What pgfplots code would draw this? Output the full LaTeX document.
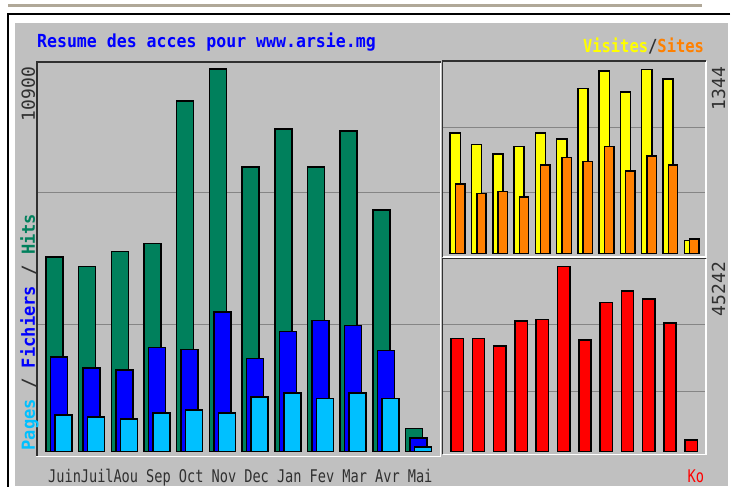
\documentclass[border=0pt]{standalone}
\usepackage{pgfplots}
\pgfplotsset{compat=1.18}
\usepackage{pgfplotstable}
\usepackage{fontspec}
\newfontfamily\fA[FakeStretch=0.92]{DejaVu Sans Mono}
\newfontfamily\fB[FakeStretch=0.95]{DejaVu Sans Mono}
\newfontfamily\fC[FakeStretch=0.86]{DejaVu Sans Mono}
\newfontfamily\fM[FakeStretch=0.78]{DejaVu Sans Mono}
\newfontfamily\fN{DejaVu Sans Mono}
\definecolor{bg}{HTML}{C0C0C0}
\definecolor{hitc}{HTML}{00805C}
\definecolor{filec}{HTML}{0000FF}
\definecolor{pagec}{HTML}{00C0FF}
\definecolor{visitc}{HTML}{FFFF00}
\definecolor{sitec}{HTML}{FF8000}
\definecolor{kbc}{HTML}{FF0000}
\definecolor{gridc}{HTML}{858585}
\definecolor{tanc}{HTML}{B0A898}
\definecolor{darkc}{HTML}{303030}

\pgfplotstableread{
m hits files pages
0 5545 2697 1034
1 5278 2384 977
2 5705 2327 920
3 5933 2962 1091
4 9997 2914 1188
5 10900 3979 1091
6 8117 2649 1558
7 9200 3418 1672
8 8117 3731 1509
9 9143 3588 1672
10 6892 2876 1509
11 655 390 122
}\mainT

\pgfplotstableread{
m visits sites kb
0 880 510 27707
1 797 440 27707
2 727 454 25849
3 782 413 31963
4 880 647 32354
5 836 702 45242
6 1205 673 27316
7 1332 782 36511
8 1181 605 39299
9 1344 715 37343
10 1276 647 31474
11 95 109 2861
}\rightT

\begin{document}
\begin{tikzpicture}
% background and frame
\fill[white] (0pt,0pt) rectangle (731pt,488pt);
\fill[tanc] (8pt,481pt) rectangle (703pt,484pt);
\fill[bg] (15pt,1pt) rectangle (729pt,465pt);
\draw[black, line width=1.6pt] (731pt,474pt) -- (8pt,474pt) -- (8pt,0pt);

\pgfplotsset{panel/.style={scale only axis, anchor=south west,
  axis line style={draw=none}, major tick length=0pt,
  scaled y ticks=false, scaled x ticks=false,
  yticklabels={}, ymajorgrids, grid style={gridc, line width=1.3pt},
  clip=false},
  bstyle/.style={ybar, draw=black, line width=1.5pt}}

% main panel
\begin{axis}[panel, at={(37pt,36pt)}, width=404pt, height=390pt,
  xmin=-0.672, xmax=11.671, ymin=0, ymax=11108,
  ytick={3617,7377},
  xtick={0,...,11},
  xticklabels={Juin,Juil,Aou,Sep,Oct,Nov,Dec,Jan,Fev,Mar,Avr,Mai},
  xticklabel style={font=\fM\fontsize{17.5}{18}\selectfont, text=darkc,
    anchor=base west, inner sep=0pt, xshift=-11pt, yshift=-31pt}]
\addplot[bstyle, bar width=0.52, bar shift=-0.1375, fill=hitc] table[x=m,y=hits]{\mainT};
\addplot[bstyle, bar width=0.52, bar shift=0, fill=filec] table[x=m,y=files]{\mainT};
\addplot[bstyle, bar width=0.52, bar shift=0.1375, fill=pagec] table[x=m,y=pages]{\mainT};
\end{axis}

% visits / sites panel
\begin{axis}[panel, at={(443pt,234pt)}, width=264pt, height=192pt,
  xmin=-0.716, xmax=11.678, ymin=0, ymax=1400,
  ytick={445,919}, xtick=\empty]
\addplot[bstyle, bar width=0.48, bar shift=-0.115, fill=visitc] table[x=m,y=visits]{\rightT};
\addplot[bstyle, bar width=0.44, bar shift=0.115, fill=sitec] table[x=m,y=sites]{\rightT};
\end{axis}

% kbytes panel
\begin{axis}[panel, at={(443pt,36pt)}, width=264pt, height=192pt,
  xmin=-0.695, xmax=11.70, ymin=0, ymax=46954,
  ytick={14673,31058}, xtick=\empty]
\addplot[bstyle, bar width=0.58, bar shift=0, fill=kbc] table[x=m,y=kb]{\rightT};
\end{axis}

% panel borders
\draw[white, line width=1.8pt] (36pt,31pt) -- (441pt,31pt) -- (441pt,427pt);
\draw[darkc, line width=1.5pt] (37pt,31pt) -- (37pt,426pt) -- (441pt,426pt);
\draw[white, line width=1.8pt] (443pt,231pt) -- (707pt,231pt) -- (707pt,427pt);
\draw[darkc, line width=1.5pt] (443pt,231pt) -- (443pt,427pt) -- (707pt,427pt);
\draw[white, line width=1.8pt] (443pt,33pt) -- (707pt,33pt) -- (707pt,229pt);
\draw[darkc, line width=1.5pt] (443pt,33pt) -- (443pt,229pt) -- (707pt,229pt);

% texts
\node[anchor=base west, inner sep=0pt, text=filec] at (37pt,440pt)
  {\fA\bfseries\fontsize{18}{20}\selectfont Resume des acces pour www.arsie.mg};
\node[anchor=base east, inner sep=0pt] at (705pt,435pt)
  {\fC\bfseries\fontsize{18}{20}\selectfont\textcolor{visitc}{Visites}\textcolor{darkc}{/}\textcolor{sitec}{Sites}};
\node[rotate=90, anchor=base west, inner sep=0pt] at (35pt,37pt)
  {\fB\bfseries\fontsize{18}{20}\selectfont\textcolor{pagec}{Pages}~\textcolor{darkc}{/}~\textcolor{filec}{Fichiers}~\textcolor{darkc}{/}~\textcolor{hitc}{Hits}};
\node[rotate=90, anchor=base east, inner sep=0pt, text=darkc] at (35pt,421pt)
  {\fN\fontsize{18}{20}\selectfont 10900};
\node[rotate=90, anchor=base east, inner sep=0pt, text=darkc] at (726pt,421pt)
  {\fN\fontsize{18}{20}\selectfont 1344};
\node[rotate=90, anchor=base east, inner sep=0pt, text=darkc] at (726pt,226pt)
  {\fN\fontsize{18}{20}\selectfont 45242};
\node[anchor=base east, inner sep=0pt, text=kbc] at (705pt,5pt)
  {\fM\fontsize{17.5}{18}\selectfont Ko};
\end{tikzpicture}
\end{document}
